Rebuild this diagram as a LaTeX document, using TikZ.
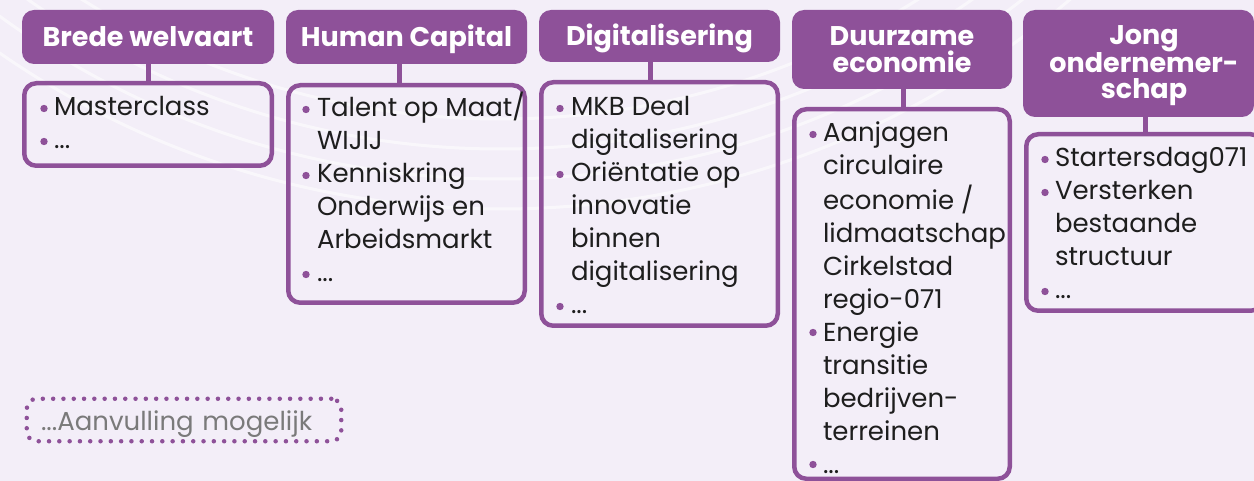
\documentclass[tikz,border=0pt]{standalone}
\usepackage{fontspec}
\setmainfont{Poppins}
\usetikzlibrary{calc}
\definecolor{pp}{HTML}{8E5199}
\definecolor{bg}{HTML}{F3EEF8}
\definecolor{tx}{HTML}{1E1E1E}
\definecolor{gy}{HTML}{7A7A7A}
\newcommand\lns[1]{\begin{tabular}[t]{@{}l@{}}#1\end{tabular}}
\tikzset{
  head/.style={fill=pp, rounded corners=12pt, text=white, align=center, inner sep=0pt, outer sep=0pt,
    text height=19.5pt, text depth=0pt, font=\bfseries\fontsize{27}{26.5}\selectfont},
  body/.style={draw=pp, line width=4.5pt, rounded corners=12pt, inner sep=0pt, outer sep=0pt},
  txt/.style={anchor=base west, inner sep=0pt, outer sep=0pt, text=tx, font=\fontsize{26}{33}\selectfont},
  conn/.style={draw=pp, line width=5pt},
  bul/.style={fill=pp},
  more/.style={draw=pp, line width=4.5pt, dash pattern=on 0pt off 10.3pt, line cap=round, rounded corners=10pt,
    text=gy, inner sep=0pt, text width=286pt, align=left, text height=20pt, text depth=0pt,
    font=\fontsize{26}{33}\selectfont},
  arc/.style={draw=white, line width=3pt, opacity=0.55}
}
\begin{document}
\begin{tikzpicture}[x=1pt,y=-1pt]
\fill[bg] (0,0) rectangle (1254,481);
\useasboundingbox (0,0) rectangle (1254,481);
\begin{scope}
\clip (0,0) rectangle (1254,481);
\foreach \r in {790,820,850,880} { \draw[arc] (500,-671) circle (\r pt); }
\end{scope}
% headers
\node[head, minimum width=252, minimum height=54] (h1) at (148,37) {Brede welvaart};
\node[head, minimum width=241, minimum height=54] (h2) at (406.5,37) {Human Capital};
\node[head, minimum width=241, minimum height=52] (h3) at (659.5,36) {Digitalisering};
\node[head, minimum width=220, minimum height=79, text height=46pt] (h4) at (902,49.5) {Duurzame\\economie};
\node[head, minimum width=231, minimum height=107, text height=71pt] (h5) at (1138.5,63.5) {\hspace*{11pt}Jong\\\hspace*{11pt}ondernemer-\\\hspace*{11pt}schap};
% bodies
\node[body, minimum width=247.5, minimum height=82.5] (b1) at (148,124.5) {};
\node[body, minimum width=236.5, minimum height=217.5] (b2) at (406.5,194) {};
\node[body, minimum width=236.5, minimum height=243.5] (b3) at (659.5,204) {};
\node[body, minimum width=215.5, minimum height=369.5] (b4) at (902,294) {};
\node[body, minimum width=236.5, minimum height=176.5] (b5) at (1144.5,222.5) {};
% connectors
\draw[conn] (h1.south) -- (h1.south |- b1.north);
\draw[conn] ([xshift=-7.5pt]h2.south) -- ([xshift=-7.5pt]h2.south |- b2.north);
\draw[conn] ([xshift=-9pt]h3.south) -- ([xshift=-9pt]h3.south |- b3.north);
\draw[conn] ([xshift=1pt]h4.south) -- ([xshift=1pt]h4.south |- b4.north);
\draw[conn] ([xshift=6.5pt]h5.south) -- ([xshift=6.5pt]h5.south |- b5.north);
% texts
\node[txt] (t1) at (54,116) {\lns{Masterclass\\...}};
\node[txt] (t2) at (317,117) {\lns{Talent op Maat/\\WIJIJ\\Kenniskring\\Onderwijs en\\Arbeidsmarkt\\...}};
\node[txt] (t3) at (571,116) {\lns{MKB Deal\\digitalisering\\Oriëntatie op\\innovatie\\binnen\\digitalisering\\...}};
\node[txt] (t4) at (823,142) {\lns{Aanjagen\\circulaire\\economie /\\lidmaatschap\\Cirkelstad\\regio-071\\Energie\\transitie\\bedrijven-\\terreinen\\...}};
\node[txt] (t5) at (1055,167) {\lns{Startersdag071\\Versterken\\bestaande\\structuur\\...}};
% bullets
\foreach \i in {0,1} { \fill[bul] (44,116-7.5+33*\i) circle (3.7pt); }
\foreach \i in {0,2,5} { \fill[bul] (306,117-7.5+33*\i) circle (3.7pt); }
\foreach \i in {0,2,6} { \fill[bul] (560,116-7.5+33*\i) circle (3.7pt); }
\foreach \i in {0,6,10} { \fill[bul] (813,142-7.5+33*\i) circle (3.7pt); }
\foreach \i in {0,1,4} { \fill[bul] (1045,167-7.5+33*\i) circle (3.7pt); }
% extra
\node[more, minimum width=314.5, minimum height=42.5] (m) at (184,420) {...Aanvulling mogelijk};
\end{tikzpicture}
\end{document}
